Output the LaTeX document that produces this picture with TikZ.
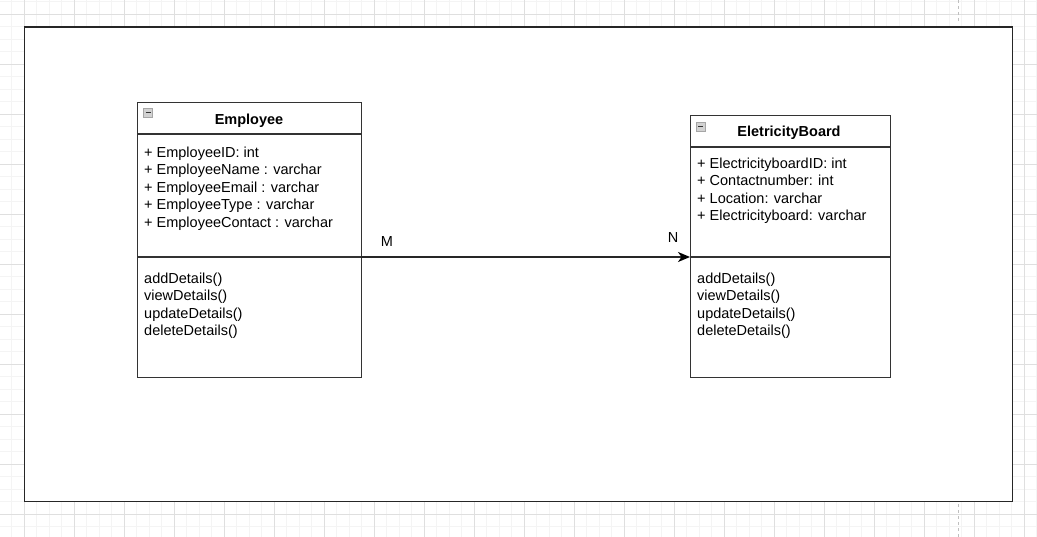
\documentclass[tikz,border=0pt]{standalone}
\usepackage{fontspec}
\setmainfont{Liberation Sans}
\usetikzlibrary{arrows.meta}
\tikzset{
  classbox/.style={draw=black!80, fill=white, line width=1.3pt, rectangle, inner sep=0pt, anchor=north west},
  member/.style={anchor=base west, inner sep=0pt, font=\fontsize{14.5}{17}\selectfont},
  classname/.style={anchor=base, inner sep=0pt, font=\fontsize{14.5}{17}\selectfont\bfseries},
  foldicon/.style={draw=gray!70, fill=gray!35, line width=0.6pt, minimum size=9pt, inner sep=0pt}
}
\begin{document}
\begin{tikzpicture}[x=1pt,y=-1pt]
  \useasboundingbox (0,0) rectangle (1037,537);
  % grid behind the page
  \foreach \i in {-1,...,82}
    \draw[gray!9, line width=0.6pt] (24+12.5*\i,0) -- (24+12.5*\i,537);
  \foreach \i in {-1,...,43}
    \draw[gray!9, line width=0.6pt] (0,14+12.5*\i) -- (1037,14+12.5*\i);
  \foreach \i in {0,...,20}
    \draw[gray!25, line width=0.6pt] (24+50*\i,0) -- (24+50*\i,537);
  \foreach \i in {0,...,10}
    \draw[gray!25, line width=0.6pt] (0,14+50*\i) -- (1037,14+50*\i);
  % page break marks
  \draw[gray!50, dashed, line width=0.8pt] (958,0) -- (958,24);
  \draw[gray!50, dashed, line width=0.8pt] (958,504) -- (958,537);

  % frame
  \draw[black!85, fill=white, line width=1.4pt] (24.5,27) rectangle (1012.5,501.5);

  % Employee class
  \node[classbox, minimum width=224, minimum height=275] (emp) at (137,102) {};
  \draw[black!80, line width=1.3pt] (137,134) -- (361,134);
  \draw[black!80, line width=1.3pt] (137,257) -- (361,257);
  \node[foldicon] (empfold) at (148,112.5) {};
  \draw[black!80, line width=1.2pt] (145.5,112.5) -- (150.5,112.5);
  \node[classname] (empname) at (249,124.2) {Employee};
  \foreach \txt [count=\k from 0] in {+ EmployeeID: int, + EmployeeName : varchar,
      + EmployeeEmail : varchar, + EmployeeType : varchar, + EmployeeContact : varchar}
    \node[member] at (144,157.2+17.5*\k) {\txt};
  \foreach \txt [count=\k from 0] in {addDetails(), viewDetails(), updateDetails(), deleteDetails()}
    \node[member] at (144,283.2+17.5*\k) {\txt};

  % ElectricityBoard class
  \node[classbox, minimum width=199.5, minimum height=262] (eb) at (690,115) {};
  \draw[black!80, line width=1.3pt] (690,147) -- (889.5,147);
  \draw[black!80, line width=1.3pt] (690,257) -- (889.5,257);
  \node[foldicon] (ebfold) at (700.5,126.5) {};
  \draw[black!80, line width=1.2pt] (698,126.5) -- (703,126.5);
  \node[classname] (ebname) at (789,136.2) {EletricityBoard};
  \foreach \txt [count=\k from 0] in {+ ElectricityboardID: int, + Contactnumber: int,
      + Location: varchar, + Electricityboard: varchar}
    \node[member] at (697,168.2+17.5*\k) {\txt};
  \foreach \txt [count=\k from 0] in {addDetails(), viewDetails(), updateDetails(), deleteDetails()}
    \node[member] at (697,283.2+17.5*\k) {\txt};

  % association
  \coordinate (empsplit) at (361,257);
  \coordinate (ebsplit) at (690,257);
  \draw[black!85, line width=1.3pt, -{Stealth[length=12pt,width=10pt,inset=3.5pt,black]}] (empsplit) -- (ebsplit);
  \node[member, anchor=center] (mlabel) at (387,241.5) {M};
  \node[member, anchor=center] (nlabel) at (673,238) {N};
\end{tikzpicture}
\end{document}
